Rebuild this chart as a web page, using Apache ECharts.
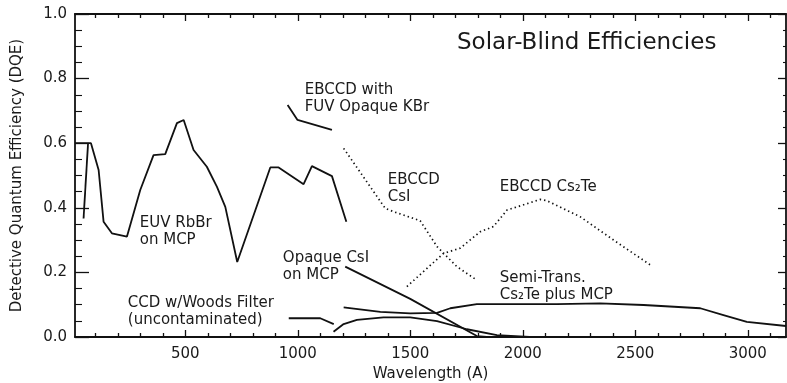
<!DOCTYPE html>
<html>
<head>
<meta charset="utf-8">
<script src="https://cdn.jsdelivr.net/npm/echarts@6/dist/echarts.min.js"></script>
<style>html,body{margin:0;padding:0;background:#fff}#c{width:787px;height:383px}</style>
</head>
<body>
<div id="c"></div>
<script>
// ---- Data (wavelength in Angstrom, DQE) ----
const euvWl   = [10, 81, 115, 137, 174, 241, 300, 359, 411, 463, 493, 537, 596, 641, 678, 731, 878, 915, 1026, 1063, 1152, 1216];
const euvQe   = [0.600, 0.600, 0.517, 0.357, 0.321, 0.311, 0.455, 0.563, 0.566, 0.662, 0.672, 0.579, 0.527, 0.465, 0.403, 0.232, 0.525, 0.525, 0.473, 0.529, 0.498, 0.357];
const euvStubWl = [48, 68];
const euvStubQe = [0.367, 0.600];
const kbrWl   = [955, 999, 1152];
const kbrQe   = [0.718, 0.672, 0.641];
const csiEbWl = [1204, 1389, 1426, 1544, 1619, 1663, 1707, 1796];
const csiEbQe = [0.584, 0.398, 0.388, 0.360, 0.280, 0.249, 0.218, 0.176];
const cs2teEbWl = [1485, 1648, 1722, 1811, 1870, 1930, 1989, 2078, 2107, 2256, 2404, 2567];
const cs2teEbQe = [0.156, 0.259, 0.275, 0.326, 0.342, 0.393, 0.406, 0.426, 0.422, 0.372, 0.300, 0.223];
const csiMcpWl = [1211, 1500, 1796, 1840];
const csiMcpQe = [0.218, 0.118, 0.003, 0.000];
const semiWl  = [1204, 1367, 1500, 1619, 1678, 1796, 2152, 2344, 2537, 2789, 2892, 2996, 3170];
const semiQe  = [0.092, 0.078, 0.073, 0.075, 0.089, 0.102, 0.102, 0.104, 0.099, 0.089, 0.068, 0.047, 0.034];
const ccdWl   = [1159, 1204, 1263, 1381, 1500, 1619, 1752, 1885, 2030];
const ccdQe   = [0.016, 0.040, 0.053, 0.061, 0.061, 0.049, 0.024, 0.006, 0.000];
const ccdLeaderWl = [960, 1100, 1160];
const ccdLeaderQe = [0.058, 0.058, 0.040];

// annotation texts and their anchor (top-left) in data coordinates
const noteTexts = ['EBCCD with\nFUV Opaque KBr', 'EBCCD\nCsI', 'EBCCD Cs\u2082Te', 'EUV RbBr\non MCP', 'Opaque CsI\non MCP', 'CCD w/Woods Filter\n(uncontaminated)', 'Semi-Trans.\nCs\u2082Te plus MCP'];
const noteWl = [1033, 1402, 1900, 300, 936, 247, 1900];
const noteQe = [0.789, 0.511, 0.489, 0.378, 0.269, 0.130, 0.207];

// axis ticks
const xMajor = [500, 1000, 1500, 2000, 2500, 3000];
const xMinor = [100, 200, 300, 400, 600, 700, 800, 900, 1100, 1200, 1300, 1400, 1600, 1700, 1800, 1900, 2100, 2200, 2300, 2400, 2600, 2700, 2800, 2900, 3100];
const xMin = 10, xMax = 3170;

const titleText = 'Solar-Blind Efficiencies';
const xName = 'Wavelength (A)';
const yName = 'Detective Quantum Efficiency (DQE)';

// ---- Build ----
const zip = (a, b) => a.map((v, i) => [v, b[i]]);
const FONT = 'DejaVu Sans';
const INK = '#111';
const TXT = '#1a1a1a';

function lineSeries(wl, qe, dotted) {
  return {
    type: 'line', data: zip(wl, qe), symbol: 'none', silent: true, animation: false,
    lineStyle: { color: INK, width: dotted ? 1.7 : 1.8, type: dotted ? [1.4, 3.0] : 'solid' }
  };
}

function xAxisCfg(pos, ticks, len, showLine, showLabel) {
  return {
    type: 'value', min: xMin, max: xMax, position: pos, offset: 0,
    axisLine: { show: showLine, onZero: false, lineStyle: { color: INK, width: 1.8 } },
    axisTick: { show: true, inside: true, length: len, customValues: ticks, lineStyle: { color: INK, width: 1.3 } },
    axisLabel: { show: showLabel, customValues: ticks, margin: 10, fontFamily: FONT, fontSize: 15, color: TXT, formatter: v => String(v) },
    splitLine: { show: false },
    name: showLabel ? xName : '', nameLocation: 'middle', nameGap: 28,
    nameTextStyle: { fontFamily: FONT, fontSize: 15, color: TXT }
  };
}

function yAxisCfg(pos, len, minorLen, showLabel) {
  return {
    type: 'value', min: 0, max: 1, interval: 0.2, position: pos,
    axisLine: { show: true, onZero: false, lineStyle: { color: INK, width: 1.8 } },
    axisTick: { show: true, inside: true, length: len, lineStyle: { color: INK, width: 1.3 } },
    minorTick: { show: true, splitNumber: 4, length: minorLen, lineStyle: { color: INK, width: 1.1 } },
    axisLabel: { show: showLabel, margin: 8, fontFamily: FONT, fontSize: 15, color: TXT, formatter: v => v.toFixed(1) },
    splitLine: { show: false }, minorSplitLine: { show: false },
    name: showLabel ? yName : '', nameLocation: 'middle', nameGap: 50, nameRotate: 90,
    nameTextStyle: { fontFamily: FONT, fontSize: 15, color: TXT }
  };
}

const series = [
  lineSeries(euvWl, euvQe, false),
  lineSeries(euvStubWl, euvStubQe, false),
  lineSeries(kbrWl, kbrQe, false),
  lineSeries(csiEbWl, csiEbQe, true),
  lineSeries(cs2teEbWl, cs2teEbQe, true),
  lineSeries(csiMcpWl, csiMcpQe, false),
  lineSeries(semiWl, semiQe, false),
  lineSeries(ccdWl, ccdQe, false),
  lineSeries(ccdLeaderWl, ccdLeaderQe, false),
  {
    type: 'scatter', silent: true, animation: false, symbol: 'circle', symbolSize: 1,
    itemStyle: { color: 'rgba(0,0,0,0)' },
    data: noteTexts.map((t, i) => ({ name: t, value: [noteWl[i], noteQe[i]] })),
    label: {
      show: true, formatter: '{b}', position: [0, 0], align: 'left', verticalAlign: 'top',
      fontFamily: FONT, fontSize: 15, lineHeight: 17, color: TXT, opacity: 1
    },
    labelLayout: { hideOverlap: false }
  }
];

const chart = echarts.init(document.getElementById('c'), null, { renderer: 'canvas' });
chart.setOption({
  animation: false,
  backgroundColor: '#fff',
  title: { text: titleText, left: 452, top: 27, textStyle: { fontFamily: FONT, fontSize: 23, fontWeight: 'normal', color: TXT } },
  grid: { left: 75, right: 1, top: 14, bottom: 46, containLabel: false, outerBoundsMode: 'none' },
  xAxis: [
    xAxisCfg('bottom', xMajor, 7, true, true),
    xAxisCfg('bottom', xMinor, 4, false, false),
    xAxisCfg('top', xMajor, 7, true, false),
    xAxisCfg('top', xMinor, 4, false, false)
  ],
  yAxis: [
    yAxisCfg('left', 14, 7, true),
    yAxisCfg('right', 8, 3, false)
  ],
  series: series
});
</script>
</body>
</html>
